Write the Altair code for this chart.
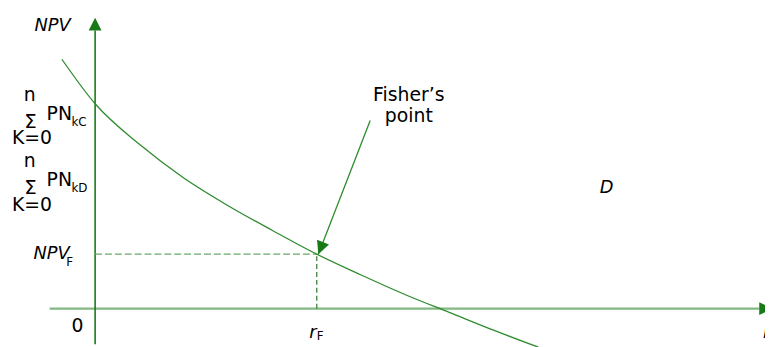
import altair as alt
import pandas as pd

# NPV profile of the project (rate in %, NPV in currency units)
rate = [-1.5, 0, 2, 4, 6, 8, 10, 12, 14, 16, 18, 20]
npv = [252, 207, 166, 132, 104, 79, 55, 34, 14, -4, -22, -39]

# Fisher's point
r_F = 10
npv_F = 55

# visible window of the diagram
R_MIN, R_MAX = -3.93, 30.22
NPV_MIN, NPV_MAX = -37, 302

# axes (lines drawn as arrows)
x_axis_r = [-2.05, 29.96]
y_axis_npv = [-36, 281]
arrow_tip_r = [0, 30.54, 10.07]
arrow_tip_npv = [294, 0, 55]
arrow_angle = [0, 90, 201.4]
pointer_start = [12.41, 190]

# labels
reg_text = ["Fisher\u2019s", "point", "0"]
reg_r = [14.15, 14.15, -0.8]
reg_npv = [210, 189, -24]

ital_text = ["NPV", "D", "r"]
ital_r = [-1.92, 23.08, 9.82]
ital_npv = [281, 117, -30]

ital_right_text = ["NPV"]
ital_right_r = [-1.15]
ital_right_npv = [50]

edge_text = ["r"]
edge_r = [30.13]
edge_npv = [-30]

sub_text = ["F", "F"]
sub_r = [-1.3, 10.0]
sub_npv = [43, -32]

n_text = ["n", "n"]
n_r = [-2.95, -2.95]
n_npv = [210, 143]

sum_text = ["\u03a3", "\u03a3"]
sum_r = [-2.92, -2.92]
sum_npv = [183, 116]

pn_text = ["PN", "PN"]
pn_r = [-2.19, -2.19]
pn_npv = [191, 124]

k_sub_text = ["kC", "kD"]
k_sub_r = [-1.07, -1.07]
k_sub_npv = [185, 118]

k0_text = ["K=0", "K=0"]
k0_r = [-3.75, -3.75]
k0_npv = [166, 99]

FONT = "DejaVu Sans"
DARK = "#177a17"
CURVE = "#2e8b2e"
LIGHT = "#82b882"

xs = alt.Scale(domain=[R_MIN, R_MAX], nice=False, zero=False)
ys = alt.Scale(domain=[NPV_MIN, NPV_MAX], nice=False, zero=False)


def X(f="r"):
    return alt.X(f, type="quantitative", scale=xs, axis=None)


def Y(f="npv"):
    return alt.Y(f, type="quantitative", scale=ys, axis=None)


x_axis = alt.Chart(pd.DataFrame({"r": [x_axis_r[0]], "r2": [x_axis_r[1]], "npv": [0]})).mark_rule(
    color=LIGHT, strokeWidth=2.2
).encode(x=X(), x2="r2", y=Y())

y_axis = alt.Chart(pd.DataFrame({"r": [0], "npv": [y_axis_npv[0]], "npv2": [y_axis_npv[1]]})).mark_rule(
    color=DARK, strokeWidth=1.6
).encode(x=X(), y=Y(), y2="npv2")

h_dash = alt.Chart(pd.DataFrame({"r": [0], "r2": [r_F], "npv": [npv_F]})).mark_rule(
    color="#6aa86a", strokeWidth=1.3, strokeDash=[7, 3]
).encode(x=X(), x2="r2", y=Y())

v_dash = alt.Chart(pd.DataFrame({"r": [r_F], "npv": [0], "npv2": [npv_F]})).mark_rule(
    color="#2a7a2a", strokeWidth=1.2, strokeDash=[5, 3]
).encode(x=X(), y=Y(), y2="npv2")

curve = alt.Chart(pd.DataFrame({"r": rate, "npv": npv})).mark_line(
    color=CURVE, strokeWidth=1.3, interpolate="monotone", clip=False
).encode(x=X(), y=Y())

pointer = alt.Chart(pd.DataFrame({"r": [pointer_start[0]], "npv": [pointer_start[1]],
                                  "r2": [arrow_tip_r[2]], "npv2": [arrow_tip_npv[2]]})).mark_rule(
    color=CURVE, strokeWidth=1.3
).encode(x=X(), y=Y(), x2="r2", y2="npv2")

heads = alt.Chart(pd.DataFrame({"r": arrow_tip_r, "npv": arrow_tip_npv, "a": arrow_angle})).mark_point(
    shape="M0,0L-1,2L1,2Z", filled=True, size=169, color=DARK, opacity=1, strokeWidth=0
).encode(x=X(), y=Y(), angle=alt.Angle("a:Q", scale=None))


def texts(t, r, v, **kw):
    base = dict(font=FONT, color="black", baseline="alphabetic")
    base.update(kw)
    return alt.Chart(pd.DataFrame({"t": t, "r": r, "npv": v})).mark_text(**base).encode(
        x=X(), y=Y(), text="t:N"
    )


layers = [
    x_axis, y_axis, h_dash, v_dash, curve, pointer, heads,
    texts(reg_text, reg_r, reg_npv, fontSize=19, align="center"),
    texts(ital_text, ital_r, ital_npv, fontSize=18, fontStyle="italic", align="center"),
    texts(ital_right_text, ital_right_r, ital_right_npv, fontSize=18, fontStyle="italic", align="right"),
    texts(edge_text, edge_r, edge_npv, fontSize=18, fontStyle="italic", align="left"),
    texts(sub_text, sub_r, sub_npv, fontSize=12, align="left"),
    texts(n_text, n_r, n_npv, fontSize=19, align="center"),
    texts(sum_text, sum_r, sum_npv, fontSize=20, align="center"),
    texts(pn_text, pn_r, pn_npv, fontSize=19, align="left"),
    texts(k_sub_text, k_sub_r, k_sub_npv, fontSize=12, align="left"),
    texts(k0_text, k0_r, k0_npv, fontSize=19, align="left"),
]

chart = alt.layer(*layers).properties(
    width=765, height=339, padding=0, autosize=alt.AutoSizeParams(type="none")
).configure_view(stroke=None)

chart.save("out.html", embed_options={"renderer": "svg", "actions": False})
